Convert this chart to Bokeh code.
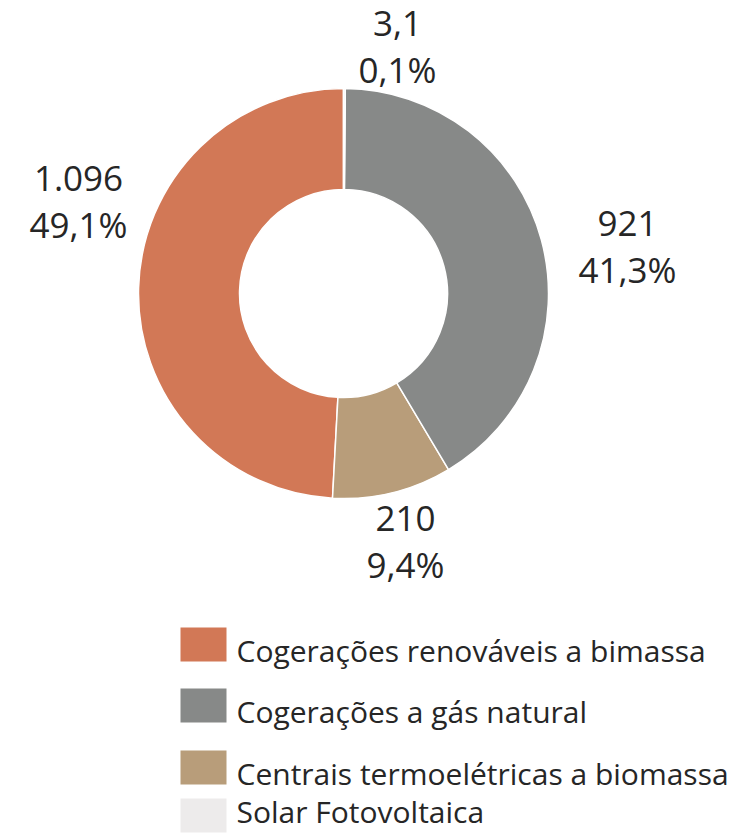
import math
from bokeh.plotting import figure
from bokeh.models import Range1d, ColumnDataSource
from bokeh.core.properties import value
from bokeh.embed import file_html
from bokeh.resources import INLINE

# ---- data ----
categories = ["Cogerações renováveis a bimassa", "Cogerações a gás natural",
              "Centrais termoelétricas a biomassa", "Solar Fotovoltaica"]
values = [1096, 921, 210, 3.1]
value_labels = ["1.096", "921", "210", "3,1"]
pct_labels = ["49,1%", "41,3%", "9,4%", "0,1%"]
colors = ["#D27856", "#878988", "#B89D7A", "#EDEBEB"]

# ---- layout / style ----
W, H = 739, 834
def sy(y):  # screen y -> data y
    return H - y

CX, CY = 343, sy(293)
R_OUT, R_IN = 205, 104
FONT = value("Open Sans")
TXT = "#262626"
LBL_SIZE = 35
LEG_SIZE = 30
BASE_FIX = 0.43  # em offset compensating renderer's baseline placement

# label anchor (center x, baseline of first line) per category, screen px
label_pos = [(78, 193), (627, 238), (405, 533), (397, 38)]
LINE_GAP = 46

# legend rows: square centre y, text baseline y (screen px)
legend_rows = [(644, 663), (705, 724), (767, 786), (815, 824)]
SQ_X, SQ_W, SQ_H = 203, 46, 34
LEG_TX = 236

p = figure(width=W, height=H, output_backend="svg", toolbar_location=None,
           x_range=Range1d(0, W), y_range=Range1d(0, H),
           min_border=0, min_border_left=0, min_border_right=0,
           min_border_top=0, min_border_bottom=0)
p.axis.visible = False
p.grid.visible = False
p.outline_line_color = None
p.background_fill_color = "white"
p.border_fill_color = "white"

# donut: starting at top, going anticlockwise: bimassa, centrais, gás, solar
order = [0, 2, 1, 3]
total = sum(values)
starts, ends, cols = [], [], []
a = math.pi / 2
for i in order:
    span = values[i] / total * 2 * math.pi
    starts.append(a)
    ends.append(a + span)
    cols.append(colors[i])
    a += span

src = ColumnDataSource(dict(x=[CX] * 4, y=[CY] * 4, s=starts, e=ends, c=cols))
p.annular_wedge(x="x", y="y", inner_radius=R_IN, outer_radius=R_OUT,
                start_angle="s", end_angle="e", direction="anticlock",
                fill_color="c", line_color="white", line_width=1.5, source=src)

# data labels
lx, ly, lt = [], [], []
off = BASE_FIX * LBL_SIZE
for i in range(4):
    x0, y0 = label_pos[i]
    lx += [x0, x0]
    ly += [sy(y0 - off), sy(y0 + LINE_GAP - off)]
    lt += [value_labels[i], pct_labels[i]]
p.text(x=lx, y=ly, text=lt, text_align="center", text_baseline="alphabetic",
       text_font=FONT, text_font_size=f"{LBL_SIZE}px", text_color=TXT)

# legend
p.rect(x=[SQ_X] * 4, y=[sy(r[0]) for r in legend_rows], width=SQ_W, height=SQ_H,
       fill_color=colors, line_color=None)
off2 = BASE_FIX * LEG_SIZE
p.text(x=[LEG_TX] * 4, y=[sy(r[1] - off2) for r in legend_rows], text=categories,
       text_align="left", text_baseline="alphabetic",
       text_font=FONT, text_font_size=f"{LEG_SIZE}px", text_color=TXT)

open("out.html", "w").write(file_html(p, INLINE))
